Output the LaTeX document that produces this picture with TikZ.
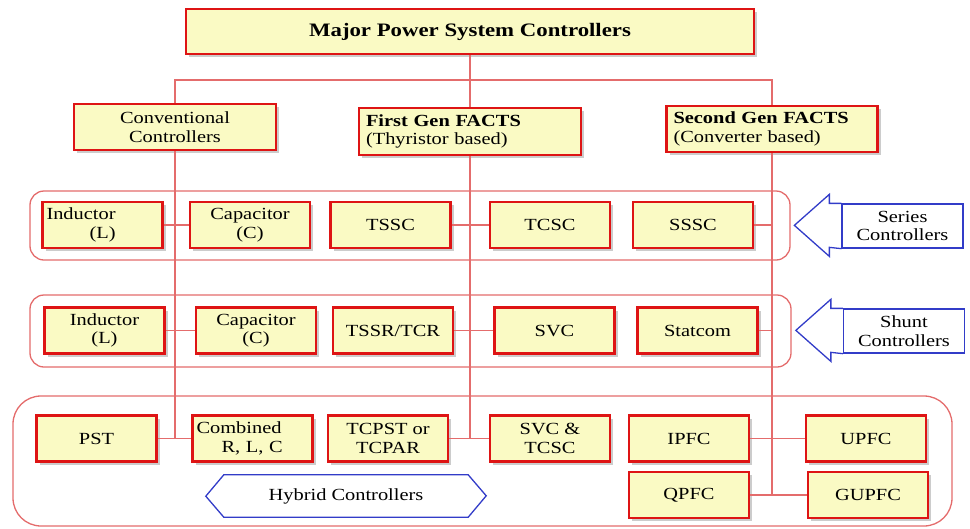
\documentclass[tikz,border=0pt]{standalone}
\usepackage{fontspec}
\setmainfont{Liberation Serif}[FakeStretch=1.2]
\usetikzlibrary{shadows}

\definecolor{boxfill}{RGB}{250,250,196}
\definecolor{boxred}{RGB}{222,20,20}
\definecolor{linkred}{RGB}{228,108,108}
\definecolor{ctrlblue}{RGB}{50,60,200}

\tikzset{
  ctrl/.style={draw=boxred, line width=2.4pt, fill=boxfill, minimum width=120pt, minimum height=46pt,
    inner sep=3pt, align=center, font=\fontsize{17}{18.5}\selectfont,
    drop shadow={shadow xshift=3pt, shadow yshift=-3pt, fill=black!40, opacity=0.5}},
  gen/.style={ctrl, align=left, inner xsep=7pt},
  link/.style={draw=linkred, line width=1.6pt},
  group/.style={draw=linkred, line width=1.3pt, rounded corners=14pt},
  side/.style={draw=ctrlblue, line width=1.3pt, fill=white, minimum width=121pt, minimum height=44pt,
    align=center, font=\fontsize{17}{18.5}\selectfont},
  outline/.style={draw=ctrlblue, line width=1.3pt}
}

\begin{document}
\begin{tikzpicture}[x=1pt, y=-1pt]
\useasboundingbox (0,0) rectangle (970,528);

% the three groups
\draw[group] (30,191) rectangle (790,260);
\draw[group] (30,295) rectangle (791,367);
\draw[group, rounded corners=28pt] (13,396) rectangle (952,526);

% top levels
\node[ctrl, minimum width=568pt, minimum height=45pt, font=\fontsize{19}{22}\selectfont\bfseries] (major) at (470,31.5) {Major Power System Controllers};
\node[ctrl, minimum width=202pt] (conv) at (175,127) {Conventional\\Controllers};
\node[gen, minimum width=222pt, minimum height=47pt, text width=208pt] (first) at (470,131.5) {\textbf{First Gen FACTS}\\(Thyristor based)};
\node[gen, minimum width=211pt, text width=197pt] (second) at (772,129) {\textbf{Second Gen FACTS}\\(Converter based)};

% series row
\node[ctrl, align=left, text width=112pt] (serL) at (102.5,225) {Inductor\\\hspace*{43pt}(L)};
\node[ctrl] (serC) at (250,225) {Capacitor\\(C)};
\node[ctrl] (tssc) at (390.5,225) {TSSC};
\node[ctrl] (tcsc) at (550,225) {TCSC};
\node[ctrl] (sssc) at (693,225) {SSSC};

% shunt row
\node[ctrl] (shL) at (104.5,330.5) {Inductor\\(L)};
\node[ctrl] (shC) at (256,330.5) {Capacitor\\(C)};
\node[ctrl] (tssr) at (393,330.5) {TSSR/TCR};
\node[ctrl] (svc) at (554.5,330.5) {SVC};
\node[ctrl] (statcom) at (697.5,330.5) {Statcom};

% hybrid rows
\node[ctrl] (pst) at (96.5,438.5) {PST};
\node[ctrl, align=left, text width=112pt] (comb) at (252.5,438.5) {Combined\\\hspace*{25pt}R, L, C};
\node[ctrl] (tcpst) at (388,438.5) {TCPST or\\TCPAR};
\node[ctrl] (svctcsc) at (550,438.5) {SVC \&\\TCSC};
\node[ctrl] (ipfc) at (689,438.5) {IPFC};
\node[ctrl] (upfc) at (866,438.5) {UPFC};
\node[ctrl] (qpfc) at (689,495) {QPFC};
\node[ctrl] (gupfc) at (868,495) {GUPFC};

% links
\coordinate (split) at (470,80);
\draw[link] (major) -- (first);
\draw[link] (conv.north) |- (split) -| (second.north);
\draw[link] (conv) -- (conv |- pst);
\draw[link] (first) -- (first |- tcpst);
\draw[link] (second) -- (second |- qpfc);
\foreach \a/\b in {serL/serC, tssc/tcsc, shL/shC, tssr/svc, pst/comb, tcpst/svctcsc, ipfc/upfc, qpfc/gupfc}
  \draw[link] (\a) -- (\b);
\draw[link] (sssc) -- (sssc -| second);
\draw[link] (statcom) -- (statcom -| second);

% side labels
\node[side] (series) at (902.5,226) {Series\\Controllers};
\node[side] (shunt) at (904,331) {Shunt\\Controllers};
\foreach \n in {series,shunt}
  \draw[outline] (\n.north west) -- ++(-12,0) -- ++(0,-9) -- ++(-35,31) -- ++(35,31) -- ++(0,-9) -- (\n.south west);

\node[minimum width=244pt, minimum height=42pt, font=\fontsize{17}{18.5}\selectfont] (hybrid) at (346,496) {Hybrid Controllers};
\draw[outline] (hybrid.north west) -- (hybrid.north east) -- ++(18,21) -- (hybrid.south east)
  -- (hybrid.south west) -- ++(-18,-21) -- cycle;
\end{tikzpicture}
\end{document}
